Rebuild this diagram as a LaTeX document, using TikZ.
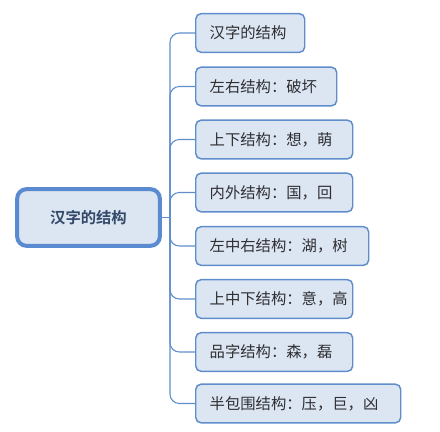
\documentclass[tikz,border=0pt]{standalone}
\usepackage{fontspec}
\newfontfamily\cjk{Noto Sans CJK SC}[BoldFont={Noto Sans CJK SC Bold}]
\definecolor{boxfill}{HTML}{DCE6F2}
\definecolor{boxline}{HTML}{5F8DCB}
\definecolor{rootline}{HTML}{5A8ACF}
\definecolor{childtext}{HTML}{2E2E33}
\definecolor{roottext}{HTML}{34486A}
\begin{document}
\begin{tikzpicture}[x=0.75pt,y=-0.75pt,
  child/.style={draw=boxline, fill=boxfill, line width=1.1pt, rounded corners=4pt,
    anchor=west, minimum height=29pt, inner xsep=10.5pt, inner ysep=0pt,
    text width=#1-21pt, align=left,
    font=\cjk\fontsize{11.5}{13}\selectfont, text=childtext},
  rootbox/.style={draw=rootline, fill=boxfill, line width=3pt, rounded corners=7pt,
    minimum width=107pt, minimum height=42.5pt, inner sep=0pt,
    font=\cjk\bfseries\fontsize{11.5}{13}\selectfont, text=roottext},
  conn/.style={draw=boxline, line width=0.8pt}]
\useasboundingbox (0,0) rectangle (440,432);
\node[rootbox] (root) at (88.5,217.5) {汉字的结构};
\coordinate (t) at (170,217.5);
\node[child=81.75pt] (c1) at (195,33) {汉字的结构};
\node[child=105.75pt] (c2) at (195,86.5) {左右结构：破坏};
\node[child=117.75pt] (c3) at (195,139.5) {上下结构：想，萌};
\node[child=117.75pt] (c4) at (195,192.5) {内外结构：国，回};
\node[child=129.75pt] (c5) at (195,246) {左中右结构：湖，树};
\node[child=117.75pt] (c6) at (195,299) {上中下结构：意，高};
\node[child=117.75pt] (c7) at (195,352) {品字结构：森，磊};
\node[child=153.75pt] (c8) at (195,403.5) {半包围结构：压，巨，凶};
\draw[conn] (root.east) -- (t);
\foreach \c in {c1,c2,c3,c4,c5,c6,c7,c8}
  \draw[conn, rounded corners=7pt] (t) |- (\c.west);
\end{tikzpicture}
\end{document}
